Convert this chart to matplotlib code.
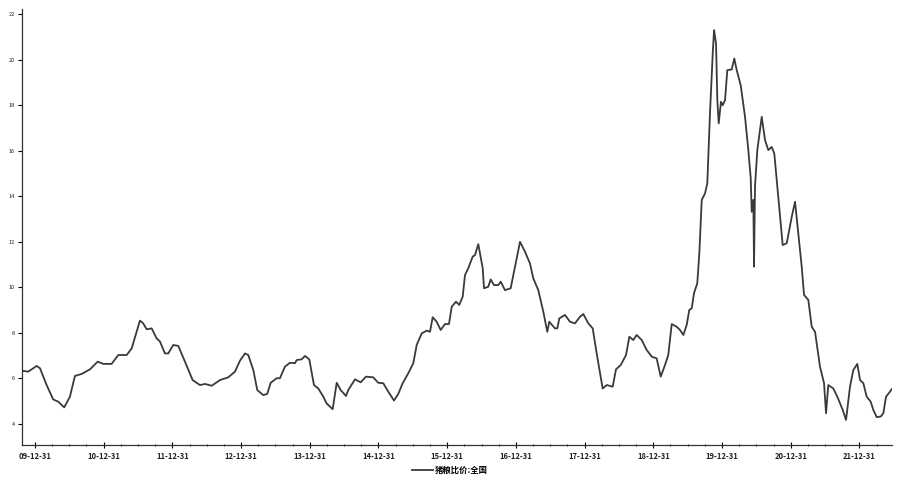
import numpy as np
import matplotlib
matplotlib.use("Agg")
import matplotlib.pyplot as plt
from matplotlib.ticker import MultipleLocator

plt.rcParams['font.family'] = ['Noto Sans CJK SC', 'DejaVu Sans']

# Tid i desimalår (2010.0 = 09-12-31) og verdier for猪粮比价
tid = [2009.811, 2009.902, 2010.025, 2010.073, 2010.170, 2010.266, 2010.339, 2010.426,
       2010.509, 2010.582, 2010.680, 2010.801, 2010.913, 2010.994, 2011.116, 2011.213,
       2011.335, 2011.408, 2011.528, 2011.576, 2011.626, 2011.699, 2011.771, 2011.820,
       2011.892, 2011.940, 2012.013, 2012.086, 2012.183, 2012.295, 2012.402, 2012.475,
       2012.572, 2012.693, 2012.814, 2012.911, 2012.984, 2013.057, 2013.105, 2013.178,
       2013.236, 2013.323, 2013.381, 2013.431, 2013.518, 2013.566, 2013.639, 2013.712,
       2013.785, 2013.809, 2013.882, 2013.930, 2013.993, 2014.061, 2014.124, 2014.197,
       2014.246, 2014.333, 2014.392, 2014.450, 2014.527, 2014.560, 2014.658, 2014.741,
       2014.818, 2014.924, 2014.997, 2015.070, 2015.143, 2015.226, 2015.288, 2015.352,
       2015.434, 2015.507, 2015.556, 2015.629, 2015.702, 2015.750, 2015.789, 2015.847,
       2015.905, 2015.968, 2016.026, 2016.066, 2016.128, 2016.176, 2016.226, 2016.259,
       2016.307, 2016.371, 2016.405, 2016.453, 2016.517, 2016.536, 2016.598, 2016.633,
       2016.681, 2016.744, 2016.779, 2016.841, 2016.924, 2016.987, 2017.060, 2017.132,
       2017.205, 2017.253, 2017.326, 2017.399, 2017.457, 2017.486, 2017.569, 2017.603,
       2017.632, 2017.715, 2017.787, 2017.860, 2017.933, 2017.981, 2018.054, 2018.118,
       2018.176, 2018.263, 2018.322, 2018.409, 2018.457, 2018.526, 2018.603, 2018.651,
       2018.709, 2018.758, 2018.831, 2018.904, 2018.977, 2019.049, 2019.108, 2019.170,
       2019.218, 2019.268, 2019.341, 2019.389, 2019.437, 2019.486, 2019.524, 2019.559,
       2019.592, 2019.640, 2019.670, 2019.705, 2019.753, 2019.786, 2019.825, 2019.865,
       2019.884, 2019.913, 2019.932, 2019.952, 2019.985, 2020.010, 2020.044, 2020.077,
       2020.141, 2020.179, 2020.214, 2020.272, 2020.335, 2020.383, 2020.418, 2020.432,
       2020.456, 2020.466, 2020.480, 2020.514, 2020.578, 2020.626, 2020.674, 2020.723,
       2020.761, 2020.819, 2020.883, 2020.942, 2021.015, 2021.063, 2021.111, 2021.160,
       2021.194, 2021.256, 2021.306, 2021.354, 2021.426, 2021.485, 2021.514, 2021.547,
       2021.620, 2021.678, 2021.757, 2021.805, 2021.863, 2021.911, 2021.969, 2022.009,
       2022.057, 2022.106, 2022.164, 2022.202, 2022.252, 2022.310, 2022.348, 2022.387,
       2022.435, 2022.470]

verdi = [6.34, 6.30, 6.55, 6.45, 5.71, 5.08, 4.98, 4.73,
         5.20, 6.11, 6.20, 6.40, 6.74, 6.64, 6.64, 7.03,
         7.03, 7.32, 8.54, 8.42, 8.16, 8.20, 7.76, 7.62,
         7.10, 7.10, 7.47, 7.43, 6.74, 5.93, 5.71, 5.76,
         5.68, 5.93, 6.05, 6.30, 6.78, 7.10, 7.03, 6.37,
         5.49, 5.27, 5.32, 5.81, 6.01, 6.01, 6.52, 6.69,
         6.67, 6.81, 6.84, 6.99, 6.84, 5.71, 5.56, 5.20,
         4.90, 4.65, 5.81, 5.49, 5.23, 5.49, 5.96, 5.83,
         6.08, 6.05, 5.81, 5.79, 5.42, 5.03, 5.32, 5.79,
         6.23, 6.67, 7.47, 7.98, 8.10, 8.05, 8.69, 8.49,
         8.13, 8.39, 8.39, 9.15, 9.37, 9.23, 9.59, 10.54,
         10.84, 11.35, 11.42, 11.90, 10.84, 9.96, 10.03, 10.35,
         10.10, 10.10, 10.25, 9.88, 9.96, 10.91, 12.00, 11.57,
         11.05, 10.40, 9.88, 8.93, 8.05, 8.49, 8.20, 8.20,
         8.64, 8.79, 8.49, 8.42, 8.71, 8.83, 8.42, 8.20,
         7.10, 5.56, 5.71, 5.64, 6.40, 6.59, 7.03, 7.83,
         7.69, 7.91, 7.69, 7.25, 6.96, 6.88, 6.08, 6.59,
         7.03, 8.39, 8.27, 8.13, 7.91, 8.35, 9.01, 9.08,
         9.74, 10.18, 11.50, 13.84, 14.13, 14.57, 17.64, 20.27,
         21.30, 20.71, 18.22, 17.20, 18.15, 18.00, 18.22, 19.54,
         19.57, 20.05, 19.54, 18.88, 17.49, 16.03, 14.79, 13.32,
         13.84, 10.91, 14.42, 16.03, 17.49, 16.47, 16.03, 16.17,
         15.88, 13.98, 11.86, 11.94, 13.10, 13.76, 12.37, 10.91,
         9.67, 9.45, 8.27, 8.05, 6.52, 5.79, 4.47, 5.71,
         5.56, 5.20, 4.62, 4.18, 5.64, 6.37, 6.64, 5.93,
         5.79, 5.20, 4.98, 4.62, 4.30, 4.33, 4.47, 5.20,
         5.38, 5.53]

aar_ticks = [2010, 2011, 2012, 2013, 2014, 2015, 2016, 2017, 2018, 2019, 2020, 2021, 2022]
aar_labels = ["09-12-31", "10-12-31", "11-12-31", "12-12-31", "13-12-31", "14-12-31",
              "15-12-31", "16-12-31", "17-12-31", "18-12-31", "19-12-31", "20-12-31",
              "21-12-31"]
y_ticks = [4, 6, 8, 10, 12, 14, 16, 18, 20, 22]
serie_navn = "猪粮比价:全国"

fig = plt.figure(figsize=(9, 4.8), dpi=100)
ax = fig.add_axes([0.0244, 0.073, 0.9667, 0.908])

ax.plot(tid, verdi, color="#3a3a3a", linewidth=1.3, label=serie_navn)

ax.set_xlim(2009.811, 2022.474)
ax.set_ylim(3.08, 22.22)

ax.set_xticks(aar_ticks)
ax.set_xticklabels(aar_labels, fontsize=5.5, fontweight="bold", color="#222222")
ax.xaxis.set_minor_locator(MultipleLocator(0.25))
ax.set_yticks(y_ticks)
ax.set_yticklabels([str(v) for v in y_ticks], fontsize=4, color="#222222")

ax.tick_params(axis="x", which="major", length=4, width=0.8, direction="inout", pad=3)
ax.tick_params(axis="x", which="minor", length=2, width=0.6, direction="inout")
ax.tick_params(axis="y", length=3, width=0.8, direction="out", pad=2)

for side in ["top", "right"]:
    ax.spines[side].set_visible(False)
for side in ["left", "bottom"]:
    ax.spines[side].set_color("#333333")
    ax.spines[side].set_linewidth(0.9)

fig.legend(loc="lower center", bbox_to_anchor=(0.5, -0.005), frameon=False,
           prop={"size": 6, "weight": "bold"}, handlelength=2.5, handletextpad=0.3)

fig.savefig("out.png", dpi=100)
